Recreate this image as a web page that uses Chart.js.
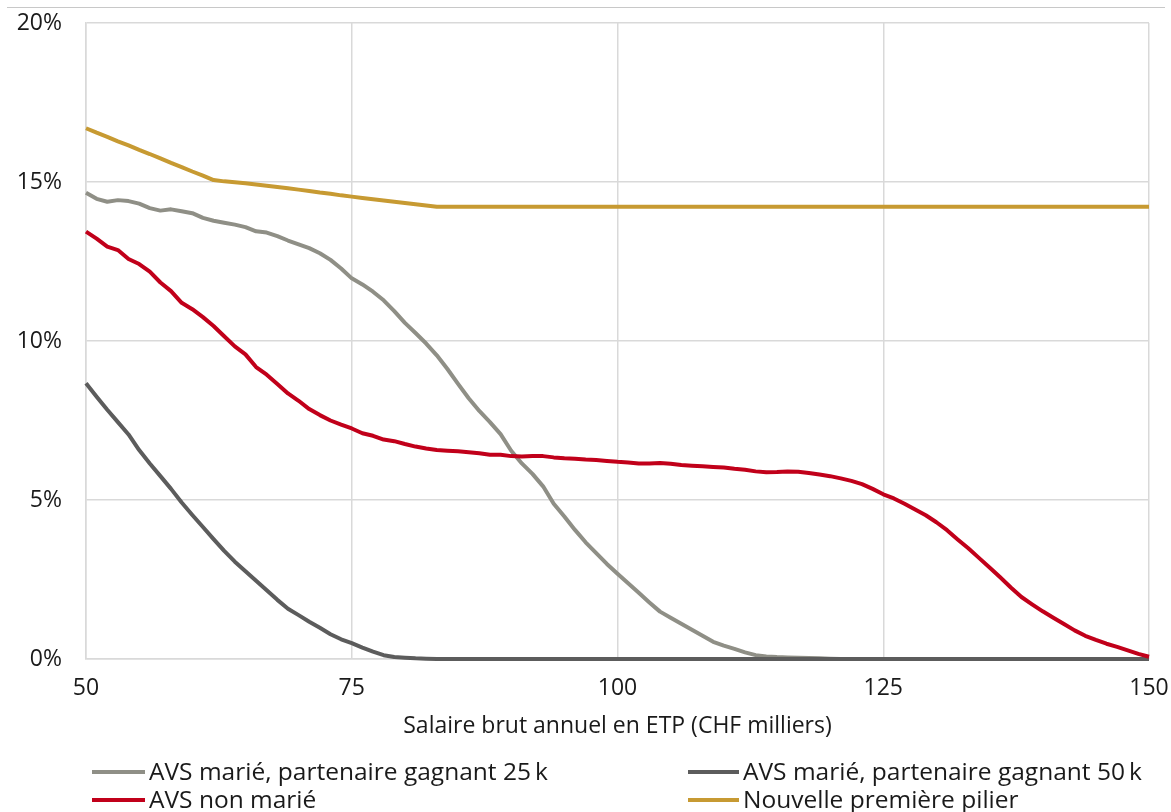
<!DOCTYPE html>
<html>
<head>
<meta charset="utf-8">
<script src="https://cdn.jsdelivr.net/npm/chart.js@4"></script>
<style>
  html, body { margin:0; padding:0; background:#fff; }
  body { width:1171px; height:812px; position:relative; overflow:hidden; font-family:"Open Sans", "Noto Sans", sans-serif; color:#1a1a1a; }
  #topline { position:absolute; left:7px; top:7px; width:1158px; height:1px; background:#c8c8c8; }
  #c { position:absolute; left:0; top:0; }
  .lg-line { position:absolute; height:4px; }
  .lg-text { position:absolute; font-size:24.5px; line-height:30px; white-space:nowrap; color:#1a1a1a; }
</style>
</head>
<body>
<div id="topline"></div>
<canvas id="c" width="1171" height="812"></canvas>
<div id="legend"></div>
<script>
const salaires = [50,51,52,53,54,55,56,57,58,59,60,61,62,63,64,65,66,67,68,69,70,71,72,73,74,75,76,77,78,79,80,81,82,83,84,85,86,87,88,89,90,91,92,93,94,95,96,97,98,99,100,101,102,103,104,105,106,107,108,109,110,111,112,113,114,115,116,117,118,119,120,121,122,123,124,125,126,127,128,129,130,131,132,133,134,135,136,137,138,139,140,141,142,143,144,145,146,147,148,149,150];

const avsMarie25 = [14.66,14.47,14.38,14.43,14.40,14.32,14.18,14.10,14.14,14.08,
  14.02,13.87,13.78,13.72,13.66,13.58,13.45,13.41,13.30,13.16,
  13.04,12.92,12.76,12.55,12.28,11.97,11.78,11.55,11.28,10.94,
  10.57,10.25,9.92,9.55,9.12,8.65,8.20,7.80,7.45,7.07,
  6.55,6.15,5.82,5.43,4.88,4.48,4.06,3.67,3.33,2.99,
  2.68,2.38,2.08,1.78,1.49,1.30,1.11,0.92,0.73,0.54,
  0.42,0.32,0.21,0.12,0.08,0.06,0.05,0.04,0.03,0.02,
  0.01,0,0,0,0,0,0,0,0,0,
  0,0,0,0,0,0,0,0,0,0,
  0,0,0,0,0,0,0,0,0,0,
  0];

const avsMarie50 = [8.67,8.25,7.84,7.45,7.06,6.57,6.15,5.75,5.35,4.92,
  4.53,4.15,3.77,3.40,3.06,2.76,2.46,2.16,1.86,1.58,
  1.38,1.17,0.98,0.78,0.62,0.50,0.36,0.23,0.12,0.06,
  0.04,0.02,0.01,0,0,0,0,0,0,0,
  0,0,0,0,0,0,0,0,0,0,
  0,0,0,0,0,0,0,0,0,0,
  0,0,0,0,0,0,0,0,0,0,
  0,0,0,0,0,0,0,0,0,0,
  0,0,0,0,0,0,0,0,0,0,
  0,0,0,0,0,0,0,0,0,0,
  0];

const avsNonMarie = [13.44,13.22,12.97,12.86,12.58,12.42,12.18,11.84,11.57,11.20,
  11.00,10.75,10.47,10.15,9.83,9.58,9.18,8.94,8.65,8.35,
  8.12,7.86,7.67,7.50,7.37,7.25,7.10,7.02,6.90,6.85,
  6.76,6.68,6.62,6.57,6.55,6.53,6.50,6.47,6.42,6.42,
  6.38,6.37,6.38,6.38,6.34,6.31,6.30,6.27,6.26,6.23,
  6.20,6.18,6.15,6.15,6.16,6.14,6.10,6.08,6.06,6.04,
  6.02,5.98,5.95,5.90,5.87,5.88,5.90,5.89,5.85,5.80,
  5.75,5.68,5.60,5.50,5.35,5.18,5.05,4.88,4.70,4.52,
  4.30,4.05,3.76,3.48,3.18,2.88,2.57,2.25,1.95,1.72,
  1.50,1.30,1.10,0.90,0.73,0.60,0.48,0.38,0.27,0.16,
  0.07];

const nouvellePilier = [16.69,16.55,16.42,16.28,16.15,16.01,15.88,15.74,15.60,15.47,
  15.33,15.20,15.06,15.02,14.99,14.96,14.92,14.88,14.84,14.80,
  14.76,14.72,14.67,14.63,14.58,14.54,14.50,14.46,14.42,14.38,
  14.34,14.30,14.26,14.22,14.22,14.22,14.22,14.22,14.22,14.22,
  14.22,14.22,14.22,14.22,14.22,14.22,14.22,14.22,14.22,14.22,
  14.22,14.22,14.22,14.22,14.22,14.22,14.22,14.22,14.22,14.22,
  14.22,14.22,14.22,14.22,14.22,14.22,14.22,14.22,14.22,14.22,
  14.22,14.22,14.22,14.22,14.22,14.22,14.22,14.22,14.22,14.22,
  14.22,14.22,14.22,14.22,14.22,14.22,14.22,14.22,14.22,14.22,
  14.22,14.22,14.22,14.22,14.22,14.22,14.22,14.22,14.22,14.22,
  14.22];

const seriesNames = ["AVS marié, partenaire gagnant 25\u2009k", "AVS marié, partenaire gagnant 50\u2009k", "AVS non marié", "Nouvelle première pilier"];
const xTickValues = [50, 75, 100, 125, 150];
const yTickValues = [0, 5, 10, 15, 20];
const xTitle = "Salaire brut annuel en ETP (CHF milliers)";

const colors = { g25: "#8f8f86", g50: "#5c5c5c", red: "#c1001a", gold: "#c79a32" };
const gridColor = "#d9d9d9";
const FONT = '"Open Sans", "Noto Sans", sans-serif';

function pts(arr) { return salaires.map((x, i) => ({ x: x, y: arr[i] })); }

const datasets = [
  { label: seriesNames[2], data: pts(avsNonMarie), borderColor: colors.red, order: 0 },
  { label: seriesNames[1], data: pts(avsMarie50), borderColor: colors.g50, order: 1 },
  { label: seriesNames[0], data: pts(avsMarie25), borderColor: colors.g25, order: 2 },
  { label: seriesNames[3], data: pts(nouvellePilier), borderColor: colors.gold, order: 3 }
].map(d => Object.assign(d, { borderWidth: 4, pointRadius: 0, tension: 0, fill: false, clip: 6, borderCapStyle: 'butt', borderJoinStyle: 'round' }));

function noPad(s) { s.paddingTop = 0; s.paddingBottom = 0; s.paddingLeft = 0; s.paddingRight = 0; }

new Chart(document.getElementById('c'), {
  type: 'line',
  data: { datasets },
  options: {
    responsive: false,
    animation: false,
    devicePixelRatio: 1,
    layout: { padding: { left: 0, right: 22, top: 23, bottom: 77 } },
    plugins: { legend: { display: false }, tooltip: { enabled: false } },
    scales: {
      x: {
        type: 'linear', min: 50, max: 150,
        afterBuildTicks: s => { s.ticks = xTickValues.map(v => ({ value: v })); },
        afterFit: s => { s.height = 76; noPad(s); },
        grid: { color: gridColor, lineWidth: 1.5, drawTicks: false },
        border: { color: gridColor, width: 1.5 },
        ticks: { padding: 16, color: '#1a1a1a', font: { family: FONT, size: 23 }, maxRotation: 0 },
        title: { display: true, text: xTitle, color: '#1a1a1a', font: { family: FONT, size: 23 }, padding: { top: 0, bottom: -5 } }
      },
      y: {
        min: 0, max: 20,
        afterBuildTicks: s => { s.ticks = yTickValues.map(v => ({ value: v })); },
        afterFit: s => { s.width = 86; noPad(s); },
        grid: { color: gridColor, lineWidth: 1.5, drawTicks: false },
        border: { color: gridColor, width: 1.5 },
        ticks: { padding: 24, color: '#1a1a1a', font: { family: FONT, size: 23 }, callback: v => v + '%' }
      }
    }
  }
});

// HTML legend (two columns, two rows)
const legendItems = [
  { name: seriesNames[0], color: colors.g25, lineX: 92, textX: 149, y: 772 },
  { name: seriesNames[1], color: colors.g50, lineX: 688, textX: 743, y: 772 },
  { name: seriesNames[2], color: colors.red, lineX: 92, textX: 149, y: 800 },
  { name: seriesNames[3], color: colors.gold, lineX: 688, textX: 743, y: 800 }
];
const lg = document.getElementById('legend');
legendItems.forEach(it => {
  const l = document.createElement('div');
  l.className = 'lg-line';
  l.style.left = it.lineX + 'px';
  l.style.width = (it.textX - it.lineX - 4) + 'px';
  l.style.top = (it.y - 2) + 'px';
  l.style.background = it.color;
  lg.appendChild(l);
  const t = document.createElement('div');
  t.className = 'lg-text';
  t.style.left = it.textX + 'px';
  t.style.top = (it.y - 16) + 'px';
  t.textContent = it.name;
  lg.appendChild(t);
});
</script>
</body>
</html>
